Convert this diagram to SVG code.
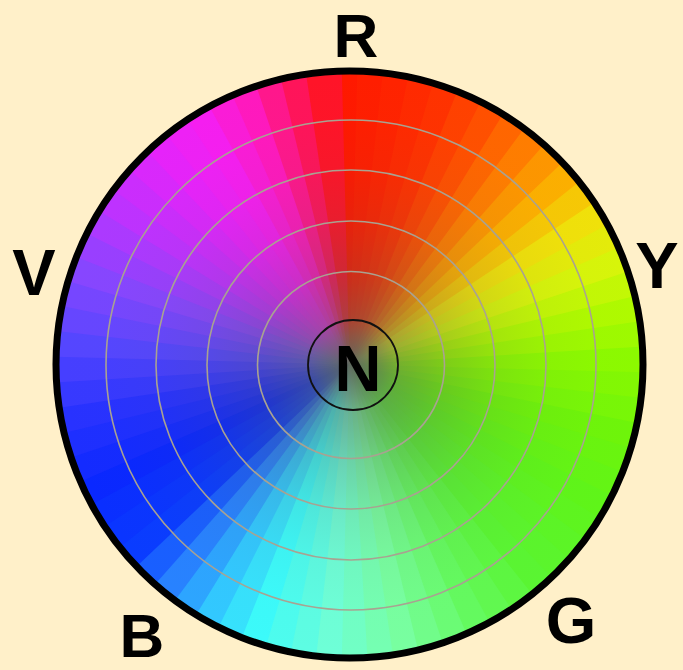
<svg xmlns="http://www.w3.org/2000/svg" xmlns:xlink="http://www.w3.org/1999/xlink" width="683" height="670" viewBox="0 0 683 670">
<style>
.lbl{font-family:"Liberation Sans",Arial,sans-serif;font-weight:bold;font-size:65px;fill:#000;text-anchor:middle}
.ring{fill:none;stroke:#a9a291;stroke-width:1.6}
</style>
<defs>
<path id="w" d="M349.5 364.5 L331.49 70.05 A295 295 0 0 1 367.51 70.05 Z"/>
<radialGradient id="shade" cx="351" cy="365" r="294" gradientUnits="userSpaceOnUse">
<stop offset="0" stop-color="#5f6a5f" stop-opacity="1"/>
<stop offset="0.1" stop-color="#5f6a5f" stop-opacity="0.7"/>
<stop offset="0.16" stop-color="#5f665c" stop-opacity="0.5"/>
<stop offset="0.32" stop-color="#5a5a55" stop-opacity="0.28"/>
<stop offset="0.5" stop-color="#5a5a55" stop-opacity="0.13"/>
<stop offset="0.66" stop-color="#5a5a55" stop-opacity="0.05"/>
<stop offset="0.83" stop-color="#5a5a55" stop-opacity="0.01"/>
<stop offset="1" stop-color="#5a5a55" stop-opacity="0"/>
</radialGradient>
</defs>
<rect width="683" height="670" fill="#fff0c9"/>
<g id="wheel">
<use href="#w" fill="rgb(255,25,0)" transform="rotate(0 349.5 364.5)"/>
<use href="#w" fill="rgb(255,30,0)" transform="rotate(5 349.5 364.5)"/>
<use href="#w" fill="rgb(255,35,0)" transform="rotate(10 349.5 364.5)"/>
<use href="#w" fill="rgb(255,42,0)" transform="rotate(15 349.5 364.5)"/>
<use href="#w" fill="rgb(255,50,0)" transform="rotate(20 349.5 364.5)"/>
<use href="#w" fill="rgb(255,65,0)" transform="rotate(25 349.5 364.5)"/>
<use href="#w" fill="rgb(255,80,0)" transform="rotate(30 349.5 364.5)"/>
<use href="#w" fill="rgb(255,102,0)" transform="rotate(35 349.5 364.5)"/>
<use href="#w" fill="rgb(255,125,0)" transform="rotate(40 349.5 364.5)"/>
<use href="#w" fill="rgb(253,150,0)" transform="rotate(45 349.5 364.5)"/>
<use href="#w" fill="rgb(252,175,0)" transform="rotate(50 349.5 364.5)"/>
<use href="#w" fill="rgb(246,200,5)" transform="rotate(55 349.5 364.5)"/>
<use href="#w" fill="rgb(240,225,10)" transform="rotate(60 349.5 364.5)"/>
<use href="#w" fill="rgb(228,235,10)" transform="rotate(65 349.5 364.5)"/>
<use href="#w" fill="rgb(215,245,10)" transform="rotate(70 349.5 364.5)"/>
<use href="#w" fill="rgb(195,248,5)" transform="rotate(75 349.5 364.5)"/>
<use href="#w" fill="rgb(175,250,0)" transform="rotate(80 349.5 364.5)"/>
<use href="#w" fill="rgb(158,250,0)" transform="rotate(85 349.5 364.5)"/>
<use href="#w" fill="rgb(140,250,0)" transform="rotate(90 349.5 364.5)"/>
<use href="#w" fill="rgb(130,248,3)" transform="rotate(95 349.5 364.5)"/>
<use href="#w" fill="rgb(120,247,7)" transform="rotate(100 349.5 364.5)"/>
<use href="#w" fill="rgb(110,245,10)" transform="rotate(105 349.5 364.5)"/>
<use href="#w" fill="rgb(105,245,15)" transform="rotate(110 349.5 364.5)"/>
<use href="#w" fill="rgb(100,245,20)" transform="rotate(115 349.5 364.5)"/>
<use href="#w" fill="rgb(95,245,25)" transform="rotate(120 349.5 364.5)"/>
<use href="#w" fill="rgb(94,245,31)" transform="rotate(125 349.5 364.5)"/>
<use href="#w" fill="rgb(92,245,38)" transform="rotate(130 349.5 364.5)"/>
<use href="#w" fill="rgb(91,245,44)" transform="rotate(135 349.5 364.5)"/>
<use href="#w" fill="rgb(90,245,50)" transform="rotate(140 349.5 364.5)"/>
<use href="#w" fill="rgb(93,247,65)" transform="rotate(145 349.5 364.5)"/>
<use href="#w" fill="rgb(97,248,80)" transform="rotate(150 349.5 364.5)"/>
<use href="#w" fill="rgb(100,250,95)" transform="rotate(155 349.5 364.5)"/>
<use href="#w" fill="rgb(107,252,117)" transform="rotate(160 349.5 364.5)"/>
<use href="#w" fill="rgb(113,253,138)" transform="rotate(165 349.5 364.5)"/>
<use href="#w" fill="rgb(120,255,160)" transform="rotate(170 349.5 364.5)"/>
<use href="#w" fill="rgb(117,255,178)" transform="rotate(175 349.5 364.5)"/>
<use href="#w" fill="rgb(113,255,197)" transform="rotate(180 349.5 364.5)"/>
<use href="#w" fill="rgb(110,255,215)" transform="rotate(185 349.5 364.5)"/>
<use href="#w" fill="rgb(93,253,227)" transform="rotate(190 349.5 364.5)"/>
<use href="#w" fill="rgb(77,252,238)" transform="rotate(195 349.5 364.5)"/>
<use href="#w" fill="rgb(60,250,250)" transform="rotate(200 349.5 364.5)"/>
<use href="#w" fill="rgb(55,225,252)" transform="rotate(205 349.5 364.5)"/>
<use href="#w" fill="rgb(50,200,255)" transform="rotate(210 349.5 364.5)"/>
<use href="#w" fill="rgb(45,165,255)" transform="rotate(215 349.5 364.5)"/>
<use href="#w" fill="rgb(40,130,255)" transform="rotate(220 349.5 364.5)"/>
<use href="#w" fill="rgb(25,95,255)" transform="rotate(225 349.5 364.5)"/>
<use href="#w" fill="rgb(10,60,255)" transform="rotate(230 349.5 364.5)"/>
<use href="#w" fill="rgb(10,53,255)" transform="rotate(235 349.5 364.5)"/>
<use href="#w" fill="rgb(10,47,255)" transform="rotate(240 349.5 364.5)"/>
<use href="#w" fill="rgb(10,40,255)" transform="rotate(245 349.5 364.5)"/>
<use href="#w" fill="rgb(20,43,255)" transform="rotate(250 349.5 364.5)"/>
<use href="#w" fill="rgb(30,47,255)" transform="rotate(255 349.5 364.5)"/>
<use href="#w" fill="rgb(40,50,255)" transform="rotate(260 349.5 364.5)"/>
<use href="#w" fill="rgb(55,57,255)" transform="rotate(265 349.5 364.5)"/>
<use href="#w" fill="rgb(70,63,255)" transform="rotate(270 349.5 364.5)"/>
<use href="#w" fill="rgb(85,70,255)" transform="rotate(275 349.5 364.5)"/>
<use href="#w" fill="rgb(102,70,255)" transform="rotate(280 349.5 364.5)"/>
<use href="#w" fill="rgb(118,70,255)" transform="rotate(285 349.5 364.5)"/>
<use href="#w" fill="rgb(135,70,255)" transform="rotate(290 349.5 364.5)"/>
<use href="#w" fill="rgb(153,63,255)" transform="rotate(295 349.5 364.5)"/>
<use href="#w" fill="rgb(172,57,255)" transform="rotate(300 349.5 364.5)"/>
<use href="#w" fill="rgb(190,50,255)" transform="rotate(305 349.5 364.5)"/>
<use href="#w" fill="rgb(203,45,253)" transform="rotate(310 349.5 364.5)"/>
<use href="#w" fill="rgb(217,40,252)" transform="rotate(315 349.5 364.5)"/>
<use href="#w" fill="rgb(230,35,250)" transform="rotate(320 349.5 364.5)"/>
<use href="#w" fill="rgb(238,33,245)" transform="rotate(325 349.5 364.5)"/>
<use href="#w" fill="rgb(245,30,240)" transform="rotate(330 349.5 364.5)"/>
<use href="#w" fill="rgb(250,28,215)" transform="rotate(335 349.5 364.5)"/>
<use href="#w" fill="rgb(255,25,190)" transform="rotate(340 349.5 364.5)"/>
<use href="#w" fill="rgb(255,23,140)" transform="rotate(345 349.5 364.5)"/>
<use href="#w" fill="rgb(255,20,90)" transform="rotate(350 349.5 364.5)"/>
<use href="#w" fill="rgb(255,20,40)" transform="rotate(355 349.5 364.5)"/>
<circle cx="351" cy="365" r="294" fill="url(#shade)"/>
</g>
<g id="rings">
<circle class="ring" cx="351" cy="365" r="245"/>
<circle class="ring" cx="351" cy="365" r="195"/>
<circle class="ring" cx="351" cy="365" r="144"/>
<circle class="ring" cx="351" cy="365" r="93.5"/>
</g>
<circle id="rim" cx="349.5" cy="364.5" r="293.5" fill="none" stroke="#000" stroke-width="7"/>
<g id="node-N">
<circle cx="353" cy="365" r="45" fill="none" stroke="#111" stroke-width="1.8"/>
<text class="lbl" x="358" y="391">N</text>
</g>
<g id="label-R"><text class="lbl" x="356" y="57" style="font-size:62px">R</text></g>
<g id="label-Y"><text class="lbl" x="657" y="288">Y</text></g>
<g id="label-V"><text class="lbl" x="34" y="295">V</text></g>
<g id="label-B"><text class="lbl" x="142" y="656.5" style="font-size:62px">B</text></g>
<g id="label-G"><text class="lbl" x="571" y="643">G</text></g>
</svg>
